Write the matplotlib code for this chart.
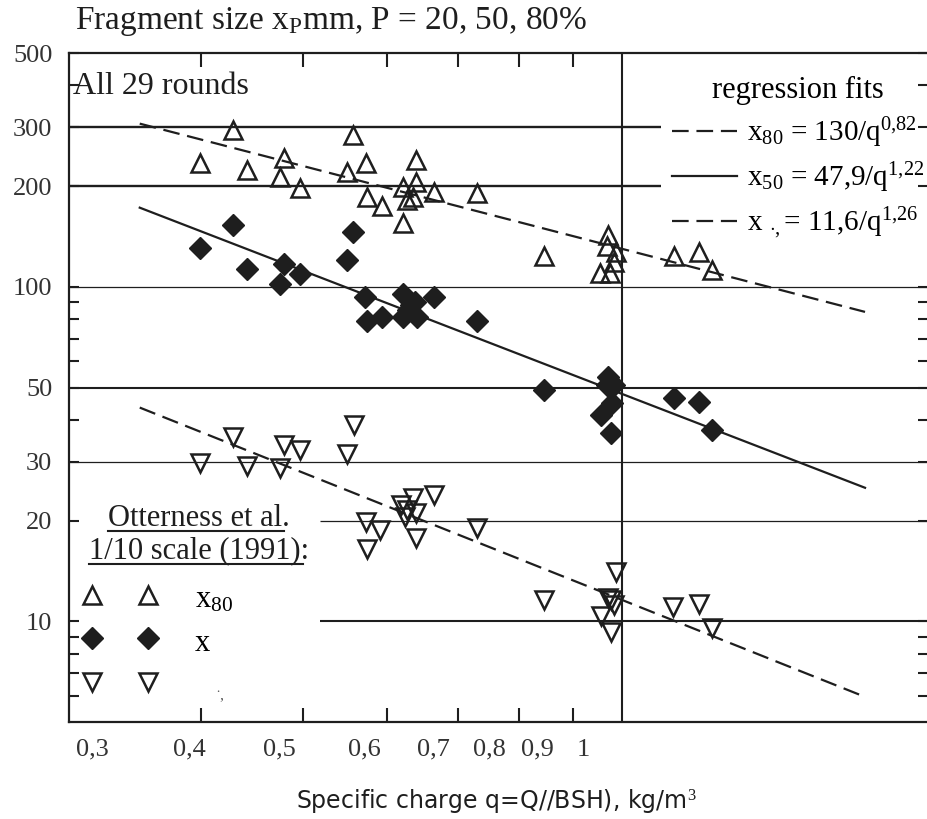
import matplotlib
matplotlib.use("Agg")
import matplotlib.pyplot as plt
import numpy as np
from matplotlib.lines import Line2D
from matplotlib.legend_handler import HandlerTuple
from matplotlib.ticker import FixedLocator, FixedFormatter, NullFormatter

plt.rcParams['font.family'] = ['Liberation Serif', 'DejaVu Serif']
plt.rcParams['mathtext.fontset'] = 'custom'
plt.rcParams['mathtext.rm'] = 'Liberation Serif'
plt.rcParams['mathtext.it'] = 'Liberation Serif:italic'

INK = '#1e1e1e'

# x80 data (open triangles up)
q80 = [0.399, 0.429, 0.442, 0.479, 0.475, 0.496, 0.557, 0.550, 0.573, 0.574,
       0.593, 0.621, 0.639, 0.639, 0.627, 0.635, 0.665, 0.730, 0.621, 0.845,
       0.970, 0.968, 0.987, 0.983, 0.955, 0.976, 1.120, 1.183, 1.217]
x80 = [235, 295, 224, 243, 213, 198, 285, 220, 235, 186,
       175, 199, 240, 206, 182, 186, 192, 191, 155, 124,
       143, 132, 127, 119, 110, 110, 124, 127, 112]

# x50 data (filled diamonds)
q50 = [0.399, 0.429, 0.442, 0.479, 0.475, 0.496, 0.557, 0.550, 0.572, 0.574,
       0.593, 0.621, 0.638, 0.641, 0.628, 0.632, 0.665, 0.730, 0.621, 0.845,
       0.970, 0.968, 0.984, 0.979, 0.956, 0.978, 1.120, 1.183, 1.217]
x50 = [131, 153, 113, 117, 102, 109, 146, 120, 93, 79,
       81, 95, 90, 81, 85, 88, 93, 79, 81, 49.1,
       53.8, 50.9, 50.9, 44.9, 41.4, 36.5, 46.5, 45.2, 37.3]

# x20 data (open triangles down)
q20 = [0.399, 0.429, 0.442, 0.479, 0.475, 0.496, 0.558, 0.550, 0.573, 0.574,
       0.591, 0.619, 0.635, 0.639, 0.624, 0.626, 0.665, 0.730, 0.639, 0.845,
       0.988, 0.970, 0.978, 0.983, 0.956, 0.978, 1.118, 1.183, 1.217]
x20 = [29.7, 35.6, 29.1, 33.6, 28.7, 32.5, 38.6, 31.6, 19.8, 16.5,
       18.7, 22.3, 23.3, 21.1, 20.5, 21.5, 23.8, 19.0, 17.7, 11.6,
       14.0, 11.7, 11.6, 11.2, 10.4, 9.27, 11.0, 11.3, 9.53]

# regression fits x = a / q^b
fit_a = [130, 47.9, 11.6]
fit_b = [0.82, 1.22, 1.26]
fit_range = [0.35, 1.70]

xtick_marks = [0.4, 0.5, 0.6, 0.7, 0.8, 0.9]
xlabel_pos = [0.316, 0.390, 0.474, 0.571, 0.664, 0.750, 0.833, 0.920]
xlabel_txt = ['0,3', '0,4', '0,5', '0,6', '0,7', '0,8', '0,9', '1']
ytick_vals = [10, 20, 30, 50, 100, 200, 300, 500]
ytick_minor = [6, 7, 8, 9, 40, 60, 70, 80, 90, 400]

fig = plt.figure(figsize=(9.28, 8.19), dpi=100)
ax = fig.add_axes([69/928, 1-722/819, 859/928, 669/819])
ax.set_xscale('log')
ax.set_yscale('log')
ax.set_xlim(0.3, 1.95)
ax.set_ylim(5, 500)

# reference lines
ax.hlines([300, 200], 0.3, 1.089, color=INK, lw=1.7, zorder=1)
ax.hlines([50], 0.3, 1.95, color=INK, lw=1.5, zorder=1)
ax.hlines([100, 30], 0.3, 1.95, color=INK, lw=0.9, zorder=1)
ax.hlines([20], 0.518, 1.95, color=INK, lw=0.9, zorder=1)
ax.hlines([10], 0.518, 1.95, color=INK, lw=1.5, zorder=1)
ax.axvline(1.0, color=INK, lw=1.5, zorder=1)

qf = np.array(fit_range)
styles = [dict(dashes=(7.5, 3.5)), dict(), dict(dashes=(7.5, 3.5))]
fit_lines = []
for a, b, st in zip(fit_a, fit_b, styles):
    ln, = ax.plot(qf, a / qf**b, color=INK, lw=1.6, zorder=2, **st)
    fit_lines.append(ln)

mk = dict(ls='none', mec=INK, zorder=3)
ax.plot(q80, x80, marker='^', ms=13, mfc='none', mew=1.8, **mk)
ax.plot(q50, x50, marker='D', ms=11, mfc=INK, mew=1, **mk)
ax.plot(q20, x20, marker='v', ms=13, mfc='none', mew=1.8, **mk)

# axes, ticks
ax.spines['right'].set_visible(False)
for s in ['left', 'top', 'bottom']:
    ax.spines[s].set_linewidth(1.6)
    ax.spines[s].set_color(INK)

ax.xaxis.set_major_locator(FixedLocator(xtick_marks))
ax.xaxis.set_major_formatter(NullFormatter())
ax.xaxis.set_minor_locator(FixedLocator(xlabel_pos))
ax.xaxis.set_minor_formatter(FixedFormatter(xlabel_txt))
ax.tick_params(axis='x', which='major', direction='in', length=10, width=1.5,
               top=True, bottom=True, color=INK)
ax.tick_params(axis='x', which='minor', length=0, pad=12, labelsize=19,
               labelcolor='#333333')

ax.set_yticks(ytick_vals, [str(v) for v in ytick_vals])
ax.set_yticks(ytick_minor, minor=True)
ax.yaxis.set_minor_formatter(NullFormatter())
ax.tick_params(axis='y', which='both', direction='in', left=True, right=True,
               length=7, width=1.5, color=INK)
ax.tick_params(axis='y', which='major', pad=12, labelsize=19, labelcolor='#333333')

ax.set_xlabel('Specific charge q=Q//BSH), kg/m$^3$', fontfamily='DejaVu Sans',
              fontsize=17, color=INK)
ax.xaxis.set_label_coords((496-69)/859, (722-787)/669)

fig.text(75/928, 1-21/819, r'Fragment size x$_{\mathrm{P}}$mm, P = 20, 50, 80%',
         fontsize=24, va='center', color=INK)
ax.text(4/859, (722-86)/669, 'All 29 rounds', transform=ax.transAxes,
        fontsize=23, va='center', color=INK)

# regression legend
fit_labels = [r'x$_{80}$ = 130/q$^{0{,}82}$',
              r'x$_{50}$ = 47,9/q$^{1{,}22}$',
              r'x $_{\cdot,}$= 11,6/q$^{1{,}26}$']
leg1 = ax.legend(fit_lines, fit_labels, title='regression fits',
                 loc='upper left', bbox_to_anchor=((672-69)/859, (722-76)/669),
                 frameon=False, fontsize=21, title_fontsize=22,
                 handlelength=2.23, handletextpad=0.34, labelspacing=0.36,
                 borderpad=0, borderaxespad=0)
ax.add_artist(leg1)

# Otterness legend
m80 = Line2D([], [], ls='none', marker='^', ms=13, mfc='none', mec=INK, mew=1.8)
m50 = Line2D([], [], ls='none', marker='D', ms=11, mfc=INK, mec=INK)
m20 = Line2D([], [], ls='none', marker='v', ms=13, mfc='none', mec=INK, mew=1.8)
leg2 = ax.legend([(m80, m80), (m50, m50), (m20, m20)], [r'x$_{80}$', 'x', ''],
                 handler_map={tuple: HandlerTuple(ndivide=None, pad=0.785)},
                 loc='upper left', bbox_to_anchor=((76-69)/859, (722-582)/669),
                 frameon=False, fontsize=22, handlelength=2.88, handleheight=1.2,
                 handletextpad=1.0, labelspacing=0.34, borderpad=0, borderaxespad=0)
ax.text((220-69)/859, (722-697)/669, '\u02d9,', transform=ax.transAxes,
        fontsize=11, ha='center', va='center', color='#555555')

titles = [('Otterness et al.', 518), ('1/10 scale (1991):', 551)]
title_txt = []
for s, yp in titles:
    t = ax.text((199-69)/859, (722-yp)/669, s, transform=ax.transAxes,
                fontsize=22, ha='center', va='center', color=INK)
    title_txt.append(t)

fig.canvas.draw()
inv = ax.transAxes.inverted()
for t in title_txt:
    bb = t.get_window_extent()
    yc = 0.5 * (bb.y0 + bb.y1)
    p0 = inv.transform((bb.x0, yc - 13))
    p1 = inv.transform((bb.x1 - 6, yc - 13))
    ax.plot([p0[0], p1[0]], [p0[1], p1[1]], transform=ax.transAxes,
            color=INK, lw=1.5, clip_on=False)

fig.savefig('out.png', dpi=100)
